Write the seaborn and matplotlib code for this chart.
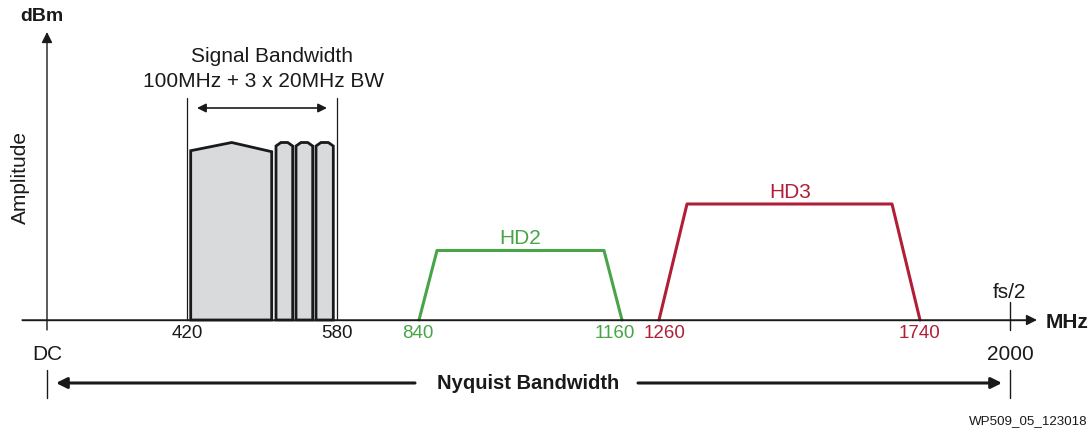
import matplotlib
matplotlib.use('Agg')
import matplotlib.pyplot as plt
import seaborn as sns

sns.set_theme(style='white')
plt.rcParams['font.family'] = ['Liberation Sans', 'DejaVu Sans']

# schematic positions (horizontal position along the drawing, amplitude above the baseline)
sig_main_x = [190.7, 190.7, 231.7, 271.7, 271.7]
sig_main_y = [0, 169.3, 177.5, 168.3, 0]
sub_left = [276.0, 296.0, 316.0]
sub_right = [292.7, 312.7, 333.3]
sub_side = 174.0
sub_peak = 177.5

hd2_x = [419, 437, 604, 622]
hd2_y = [0, 69.5, 69.5, 0]
hd3_x = [659, 687, 892, 920]
hd3_y = [0, 116, 116, 0]

tick_pos = [187, 337, 418, 615, 665, 920]
tick_text = ['420', '580', '840', '1160', '1260', '1740']
green = '#47a447'
red = '#b01f37'
tick_colors = ['#1a1a1a', '#1a1a1a', green, green, red, red]

bw_left, bw_right = 186.7, 336.7
dc_pos, fs_pos = 47, 1010

fig = plt.figure(figsize=(10.92, 4.36), dpi=100)
ax = fig.add_axes([0, 0, 1, 1])
ax.set_xlim(0, 1092)
ax.set_ylim(-116, 320)
ax.axis('off')

ink = '#1a1a1a'

# axes
ax.annotate('', xy=(1037, 0), xytext=(22, 0),
            arrowprops=dict(arrowstyle='-|>', color=ink, lw=1.0, mutation_scale=16,
                            shrinkA=0, shrinkB=0), zorder=4)
ax.annotate('', xy=(dc_pos, 288), xytext=(dc_pos, -10),
            arrowprops=dict(arrowstyle='-|>', color=ink, lw=1.0, mutation_scale=16,
                            shrinkA=0, shrinkB=0))
ax.plot([fs_pos, fs_pos], [18, -10], color=ink, lw=1.0)

# signal bandwidth markers
for xv in [bw_left, bw_right]:
    ax.plot([xv, xv], [0, 222], color=ink, lw=0.9)
ax.annotate('', xy=(197, 212), xytext=(327, 212),
            arrowprops=dict(arrowstyle='<|-|>', color=ink, lw=1.2, mutation_scale=13,
                            shrinkA=0, shrinkB=0))

# signal blocks
ax.fill(sig_main_x, sig_main_y, facecolor='#d9dadc', edgecolor=ink, lw=2.0, zorder=3)
for x0, x1 in zip(sub_left, sub_right):
    xs = [x0, x0, x0 + 5, x1 - 5, x1, x1]
    ys = [0, sub_side, sub_peak, sub_peak, sub_side, 0]
    ax.fill(xs, ys, facecolor='#d9dadc', edgecolor=ink, lw=2.0, zorder=3)

# harmonics
sns.lineplot(x=hd2_x, y=hd2_y, ax=ax, color=green, lw=2.2, sort=False, estimator=None)
sns.lineplot(x=hd3_x, y=hd3_y, ax=ax, color=red, lw=2.2, sort=False, estimator=None)
ax.plot([22, 1025], [0, 0], color=ink, lw=1.0, zorder=4)

# texts
ax.text(520, 82, 'HD2', color=green, fontsize=15, ha='center', va='center')
ax.text(790, 128, 'HD3', color=red, fontsize=15, ha='center', va='center')
for p, t, c in zip(tick_pos, tick_text, tick_colors):
    ax.text(p, -14, t, color=c, fontsize=13.5, ha='center', va='center')

ax.text(272, 263, 'Signal Bandwidth', fontsize=15, ha='center', va='center', color=ink)
ax.text(264, 238, '100MHz + 3 x 20MHz BW', fontsize=15, ha='center', va='center', color=ink)

ax.text(42, 303, 'dBm', fontsize=14, fontweight='bold', ha='center', va='center', color=ink)
ax.text(20, 142, 'Amplitude', fontsize=15, rotation=90, ha='center', va='center', color=ink)
ax.text(1067, -2, 'MHz', fontsize=15, fontweight='bold', ha='center', va='center', color=ink)
ax.text(1009, 28, 'fs/2', fontsize=15, ha='center', va='center', color=ink)
ax.text(dc_pos, -34, 'DC', fontsize=15, ha='center', va='center', color=ink)
ax.text(fs_pos, -34, '2000', fontsize=15, ha='center', va='center', color=ink)

# nyquist bandwidth
ny_y = -63
for xv in [dc_pos, fs_pos]:
    ax.plot([xv, xv], [-50, -78], color=ink, lw=1.0)
ax.annotate('', xy=(56, ny_y), xytext=(415, ny_y),
            arrowprops=dict(arrowstyle='-|>', color=ink, lw=2.2, mutation_scale=16,
                            shrinkA=0, shrinkB=0))
ax.annotate('', xy=(1002, ny_y), xytext=(638, ny_y),
            arrowprops=dict(arrowstyle='-|>', color=ink, lw=2.2, mutation_scale=16,
                            shrinkA=0, shrinkB=0))
ax.text(528, ny_y, 'Nyquist Bandwidth', fontsize=14.5, fontweight='bold',
        ha='center', va='center', color=ink)

ax.text(1088, -101, 'WP509_05_123018', fontsize=9.6, ha='right', va='center', color=ink)

fig.savefig('out.png', dpi=100)
